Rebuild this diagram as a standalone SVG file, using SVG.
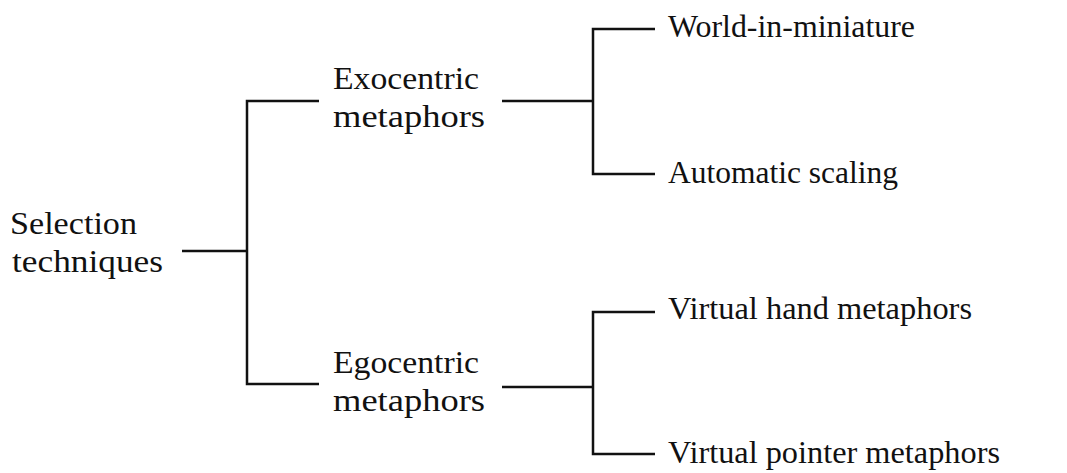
<svg xmlns="http://www.w3.org/2000/svg" width="1067" height="473" viewBox="0 0 1067 473">
<style>
.t{font-family:"Liberation Serif","Times New Roman",serif;font-size:32px;fill:#111;}
.c{stroke:#111;stroke-width:2.5;fill:none;}
</style>
<rect width="1067" height="473" fill="#fff"/>
<g id="connectors">
<path class="c" d="M182 251H247M319 101H247V384H319"/>
<path class="c" d="M502 101H593M655 29H593V174H655"/>
<path class="c" d="M502 387H593M655 312H593V454H655"/>
</g>
<g id="root"><text class="t" x="10" y="234" textLength="127" lengthAdjust="spacingAndGlyphs">Selection</text><text class="t" x="12" y="272" textLength="151" lengthAdjust="spacingAndGlyphs">techniques</text></g>
<g id="exo"><text class="t" x="333" y="89" textLength="146" lengthAdjust="spacingAndGlyphs">Exocentric</text><text class="t" x="333" y="127" textLength="152" lengthAdjust="spacingAndGlyphs">metaphors</text></g>
<g id="ego"><text class="t" x="333" y="373" textLength="146" lengthAdjust="spacingAndGlyphs">Egocentric</text><text class="t" x="333" y="411" textLength="152" lengthAdjust="spacingAndGlyphs">metaphors</text></g>
<g id="wim"><text class="t" x="668" y="37" textLength="247" lengthAdjust="spacingAndGlyphs">World-in-miniature</text></g>
<g id="auto"><text class="t" x="668" y="183" textLength="230" lengthAdjust="spacingAndGlyphs">Automatic scaling</text></g>
<g id="hand"><text class="t" x="668" y="319" textLength="304" lengthAdjust="spacingAndGlyphs">Virtual hand metaphors</text></g>
<g id="pointer"><text class="t" x="668" y="463" textLength="332" lengthAdjust="spacingAndGlyphs">Virtual pointer metaphors</text></g>
</svg>
